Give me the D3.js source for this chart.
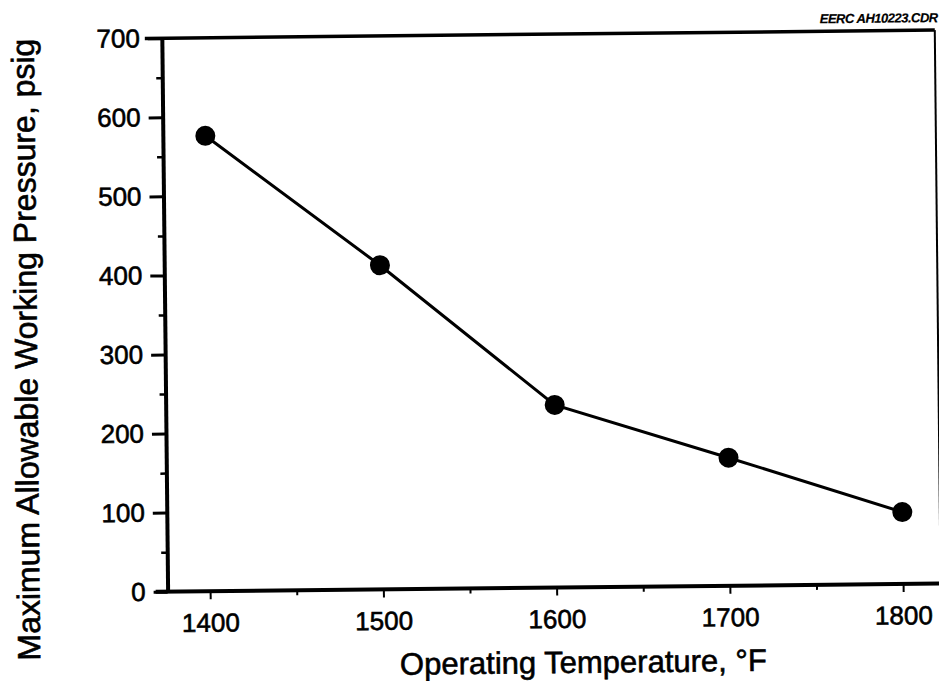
<!DOCTYPE html>
<html>
<head>
<meta charset="utf-8">
<script src="https://cdn.jsdelivr.net/npm/d3@7"></script>
<style>
  body { margin: 0; background: #fff; }
  text { font-family: "Liberation Sans", Arial, sans-serif; fill: #000; stroke: #000; stroke-width: 0.6px; }
</style>
</head>
<body>
<svg id="chart" width="939" height="681"></svg>
<script>
// data
temps = [1400, 1500, 1600, 1700, 1800]
pressures = [576, 410, 231, 162, 91]
xTicks = [1400, 1500, 1600, 1700, 1800]
yTicks = [0, 100, 200, 300, 400, 500, 600, 700]

plot_left = 165
plot_right = 938
plot_top = 35
plot_bottom = 588.5

document.addEventListener('DOMContentLoaded', function () {
    svg = d3.select('#chart');
    // the original is a slightly skewed scan, so tilt the whole drawing a bit
    g = svg.append('g').attr('transform', 'rotate(-0.6, 470, 340)');
    drawChart(g);
});

function drawChart(g) {
    var xScale = d3.scaleLinear()
        .domain([1400, 1800])
        .range([207.5, 900.5]);

    var yScale = d3.scaleLinear()
        .domain([0, 700])
        .range([plot_bottom, plot_top]);

    // top + right border of the frame
    g.append('line')
        .attr('x1', plot_left - 17).attr('x2', plot_right)
        .attr('y1', plot_top).attr('y2', plot_top)
        .style('stroke', 'black').style('stroke-width', 3.5);
    g.append('line')
        .attr('x1', plot_right).attr('x2', plot_right)
        .attr('y1', plot_top).attr('y2', plot_bottom)
        .style('stroke', 'black').style('stroke-width', 2);

    // y axis
    var yAxis = d3.axisLeft(yScale)
        .tickValues(yTicks)
        .tickSize(14)
        .tickPadding(8)
        .tickSizeOuter(0);
    var yg = g.append('g')
        .attr('transform', 'translate(' + plot_left + ',0)')
        .call(yAxis);
    yg.select('.domain').style('stroke-width', 4);
    yg.selectAll('.tick line').style('stroke-width', 3);
    yg.selectAll('.tick text').style('font-size', '26px');

    // y minor ticks
    var yMinor = d3.axisLeft(yScale)
        .tickValues(d3.range(50, 700, 100))
        .tickSize(6)
        .tickFormat('')
        .tickSizeOuter(0);
    var ymg = g.append('g')
        .attr('transform', 'translate(' + plot_left + ',0)')
        .call(yMinor);
    ymg.select('.domain').remove();
    ymg.selectAll('.tick line').style('stroke-width', 2.5);

    // x axis
    var xAxis = d3.axisBottom(xScale)
        .tickValues(xTicks)
        .tickSize(8)
        .tickPadding(14)
        .tickFormat(d3.format('d'))
        .tickSizeOuter(0);
    var xg = g.append('g')
        .attr('transform', 'translate(0,' + plot_bottom + ')')
        .call(xAxis);
    xg.select('.domain').remove();
    xg.selectAll('.tick line').style('stroke-width', 2);
    xg.selectAll('.tick text').style('font-size', '26px');

    g.append('line')
        .attr('x1', plot_left - 12).attr('x2', plot_right)
        .attr('y1', plot_bottom).attr('y2', plot_bottom)
        .style('stroke', 'black').style('stroke-width', 4);

    var xMinor = d3.axisBottom(xScale)
        .tickValues(d3.range(1450, 1850, 100))
        .tickSize(5)
        .tickFormat('')
        .tickSizeOuter(0);
    var xmg = g.append('g')
        .attr('transform', 'translate(0,' + plot_bottom + ')')
        .call(xMinor);
    xmg.select('.domain').remove();
    xmg.selectAll('.tick line').style('stroke-width', 2);

    // data line + dots
    var data = temps.map(function (t, i) { return { t: t, p: pressures[i] }; });

    var line = d3.line()
        .x(function (d) { return xScale(d.t); })
        .y(function (d) { return yScale(d.p); });

    g.append('path')
        .datum(data)
        .attr('d', line)
        .style('fill', 'none')
        .style('stroke', 'black')
        .style('stroke-width', 3);

    g.selectAll('.dot')
        .data(data)
        .enter()
        .append('circle')
        .attr('class', 'dot')
        .attr('cx', function (d) { return xScale(d.t); })
        .attr('cy', function (d) { return yScale(d.p); })
        .attr('r', 10)
        .style('fill', 'black');

    // titles
    g.append('text')
        .attr('x', 580)
        .attr('y', 674)
        .attr('text-anchor', 'middle')
        .style('font-size', '31px')
        .text('Operating Temperature, °F');

    g.append('text')
        .attr('transform', 'translate(37,345) rotate(-90)')
        .attr('text-anchor', 'middle')
        .style('font-size', '32px')
        .text('Maximum Allowable Working Pressure, psig');

    g.append('text')
        .attr('x', 941)
        .attr('y', 27)
        .attr('text-anchor', 'end')
        .style('font-size', '13px')
        .style('font-weight', 'bold')
        .style('font-style', 'italic')
        .style('letter-spacing', '-0.5px')
        .style('stroke-width', '0.2px')
        .text('EERC AH10223.CDR');
}
</script>
</body>
</html>
